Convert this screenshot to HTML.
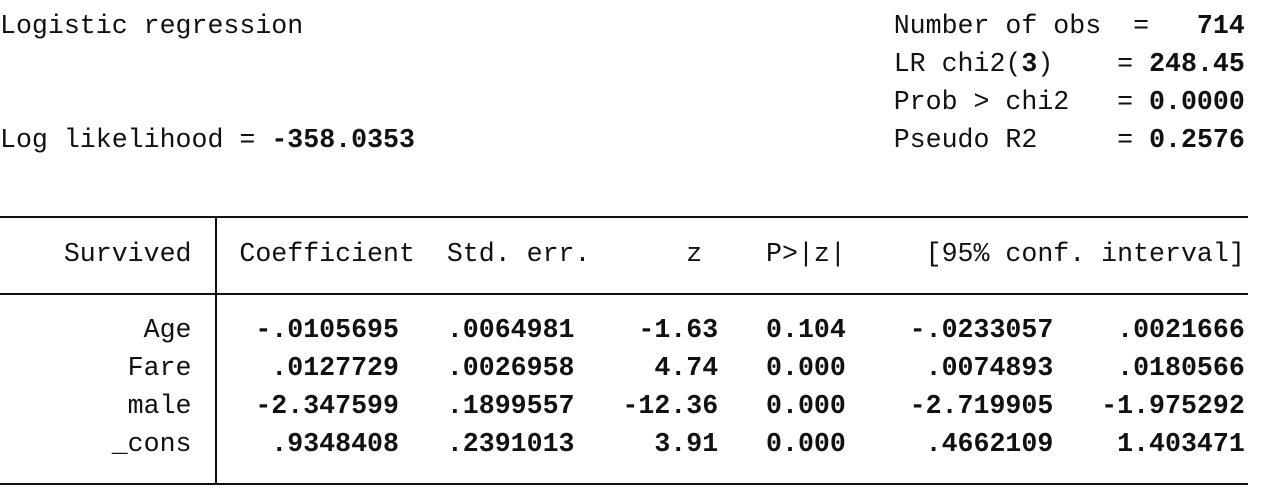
<!DOCTYPE html>
<html><head><meta charset="utf-8"><style>
html,body{margin:0;padding:0;background:#fff;width:1268px;height:498px;overflow:hidden;position:relative}
pre{position:absolute;left:0;margin:0;font-family:"Liberation Mono",monospace;font-size:26.6px;line-height:38px;height:38px;color:#111;white-space:pre}
b{font-weight:bold}
.h{position:absolute;left:0;width:1248px;height:2px;background:#111}
.v{position:absolute;left:215px;width:2px;top:217px;height:268px;background:#111}
</style></head><body>
<pre style="top:7px">Logistic regression                                     Number of obs  =   <b>714</b></pre>
<pre style="top:45px">                                                        LR chi2(<b>3</b>)    = <b>248.45</b></pre>
<pre style="top:83px">                                                        Prob &gt; chi2   = <b>0.0000</b></pre>
<pre style="top:121px">Log likelihood = <b>-358.0353</b>                              Pseudo R2     = <b>0.2576</b></pre>
<div class="h" style="top:216px"></div>
<div class="h" style="top:293px"></div>
<div class="h" style="top:483px"></div>
<div class="v"></div>
<pre style="top:235px">    Survived   Coefficient  Std. err.      z    P&gt;|z|     [95% conf. interval]</pre>
<pre style="top:311px">         Age    <b>-.0105695   .0064981    -1.63   0.104    -.0233057    .0021666</b></pre>
<pre style="top:349px">        Fare    <b> .0127729   .0026958     4.74   0.000     .0074893    .0180566</b></pre>
<pre style="top:387px">        male    <b>-2.347599   .1899557   -12.36   0.000    -2.719905   -1.975292</b></pre>
<pre style="top:425px">       _cons    <b> .9348408   .2391013     3.91   0.000     .4662109    1.403471</b></pre>
</body></html>
